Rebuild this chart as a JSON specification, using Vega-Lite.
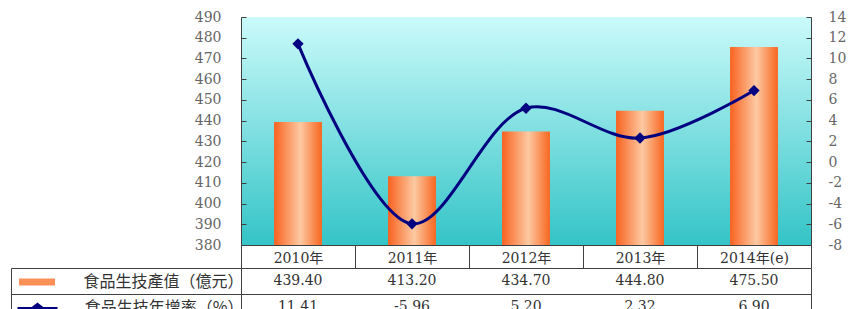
{
  "$schema": "https://vega.github.io/schema/vega-lite/v6.json",
  "padding": {"left": 10, "top": 10, "right": 0, "bottom": 0},
  "background": "white",
  "spacing": 23,
  "bounds": "flush",
  "config": {
    "locale": {"number": {"decimal": ".", "thousands": ",", "grouping": [3], "currency": ["", ""], "minus": "-"}},
    "axis": {"labelFont": "DejaVu Serif", "labelColor": "#666666", "labelFontSize": 14, "domainColor": "#404040", "tickColor": "#404040"},
    "view": {"stroke": null}
  },
  "datasets": {
    "main": [
      {"year": "2010年", "value": 439.4, "growth": 11.41},
      {"year": "2011年", "value": 413.2, "growth": -5.96},
      {"year": "2012年", "value": 434.7, "growth": 5.2},
      {"year": "2013年", "value": 444.8, "growth": 2.32},
      {"year": "2014年(e)", "value": 475.5, "growth": 6.9}
    ]
  },
  "resolve": {"scale": {"fill": "independent", "stroke": "independent"}},
  "vconcat": [
    {
      "width": 570,
      "height": 228,
      "data": {"name": "main"},
      "view": {
        "stroke": null,
        "fill": {"gradient": "linear", "x1": 0, "y1": 0, "x2": 0, "y2": 1,
          "stops": [{"offset": 0, "color": "#cbfafa"}, {"offset": 1, "color": "#34c4c7"}]}
      },
      "encoding": {
        "x": {
          "field": "year", "type": "nominal", "sort": null,
          "scale": {"paddingInner": 0, "paddingOuter": 0},
          "axis": {
            "title": null, "labelAngle": 0, "domain": true, "ticks": true, "tickBand": "extent", "tickSize": 23,
            "labelPadding": -17, "labelFont": "DejaVu Serif, Noto Sans CJK TC", "labelFontSize": 14,
            "labelColor": "#333333"
          }
        }
      },
      "layer": [
        {
          "mark": {
            "type": "bar", "width": {"band": 0.42}, "clip": true,
            "fill": {"gradient": "linear", "x1": 0, "y1": 0, "x2": 1, "y2": 0,
              "stops": [{"offset": 0, "color": "#f8621f"}, {"offset": 0.55, "color": "#fdc9a2"}, {"offset": 1, "color": "#f8661f"}]}
          },
          "encoding": {
            "y": {
              "field": "value", "type": "quantitative",
              "scale": {"domain": [380, 490], "zero": false, "nice": false},
              "axis": {
                "title": null, "orient": "left", "values": [380, 390, 400, 410, 420, 430, 440, 450, 460, 470, 480, 490],
                "tickSize": -5, "labelPadding": 25, "minExtent": 230, "maxExtent": 230, "grid": false
              }
            }
          }
        },
        {
          "mark": {
            "type": "line", "interpolate": "catmull-rom", "color": "#000080", "strokeWidth": 3,
            "point": {"shape": "diamond", "size": 130, "filled": true, "color": "#000080"}
          },
          "encoding": {
            "y": {
              "field": "growth", "type": "quantitative",
              "scale": {"domain": [-8, 14], "zero": false, "nice": false},
              "axis": {
                "title": null, "orient": "right", "values": [-8, -6, -4, -2, 0, 2, 4, 6, 8, 10, 12, 14],
                "tickSize": -5, "labelPadding": 22, "grid": false
              }
            }
          }
        }
      ],
      "resolve": {"scale": {"y": "independent"}}
    },
    {
      "width": 570,
      "height": 52,
      "view": {"stroke": "#404040", "strokeWidth": 1},
      "layer": [
        {
          "layer": [
            {
              "data": {"name": "main"},
              "mark": {"type": "text", "font": "DejaVu Serif", "fontSize": 14, "color": "#333333"},
              "encoding": {
                "x": {"field": "year", "type": "nominal", "sort": null, "scale": {"paddingInner": 0, "paddingOuter": 0}, "axis": null},
                "y": {
                  "datum": "食品生技產值（億元）", "type": "nominal",
                  "scale": {"domain": ["食品生技產值（億元）", "食品生技年增率（%）"], "paddingInner": 0, "paddingOuter": 0},
                  "axis": {
                    "title": null, "orient": "left", "domain": false, "ticks": true, "tickBand": "extent", "tickSize": 230,
                    "labelPadding": -232, "labelFont": "Noto Sans CJK TC", "labelFontSize": 16, "labelColor": "#333333",
                    "grid": true, "gridColor": "#404040", "gridOpacity": 1, "minExtent": 230, "maxExtent": 230
                  }
                },
                "text": {"field": "value", "format": ".2f"}
              }
            },
            {
              "data": {"name": "main"},
              "mark": {"type": "text", "font": "DejaVu Serif", "fontSize": 14, "color": "#333333"},
              "encoding": {
                "x": {"field": "year", "type": "nominal", "sort": null, "axis": null},
                "y": {"datum": "食品生技年增率（%）", "type": "nominal"},
                "text": {"field": "growth", "format": ".2f"}
              }
            },
            {
              "data": {"values": []},
              "mark": {"type": "point", "filled": true, "opacity": 1},
              "encoding": {
                "fill": {
                  "datum": "食品生技產值（億元）", "type": "nominal",
                  "scale": {"range": ["#fa8f57"]},
                  "legend": {
                    "orient": "none", "legendX": -209, "legendY": 9, "title": null, "padding": 0,
                    "symbolSize": 64, "labelExpr": "''", "symbolOpacity": 1, "symbolStrokeWidth": 0,
                    "symbolType": "M-4.5,-0.9H4.5V0.9H-4.5Z"
                  }
                }
              }
            },
            {
              "data": {"values": []},
              "mark": {"type": "point", "filled": true, "fill": "#000080", "opacity": 1},
              "encoding": {
                "stroke": {
                  "datum": "食品生技年增率（%）", "type": "nominal",
                  "scale": {"range": ["#000080"]},
                  "legend": {
                    "orient": "none", "legendX": -209, "legendY": 35, "title": null, "padding": 0,
                    "symbolSize": 64, "labelExpr": "''", "symbolOpacity": 1, "symbolStrokeWidth": 3,
                    "symbolFillColor": "#000080",
                    "symbolType": "M-5,0H5M0,-1L1.3,0L0,1L-1.3,0Z"
                  }
                }
              }
            }
          ]
        },
        {
          "data": {"values": []},
          "mark": {"type": "point"},
          "encoding": {
            "y": {
              "field": "z", "type": "quantitative", "scale": {"domain": [0, 1]},
              "axis": {"title": null, "orient": "left", "offset": 230, "labels": false, "ticks": false, "grid": false,
                "domain": true, "domainColor": "#404040", "minExtent": 0, "maxExtent": 0}
            }
          }
        }
      ],
      "resolve": {"scale": {"y": "independent"}}
    }
  ]
}
